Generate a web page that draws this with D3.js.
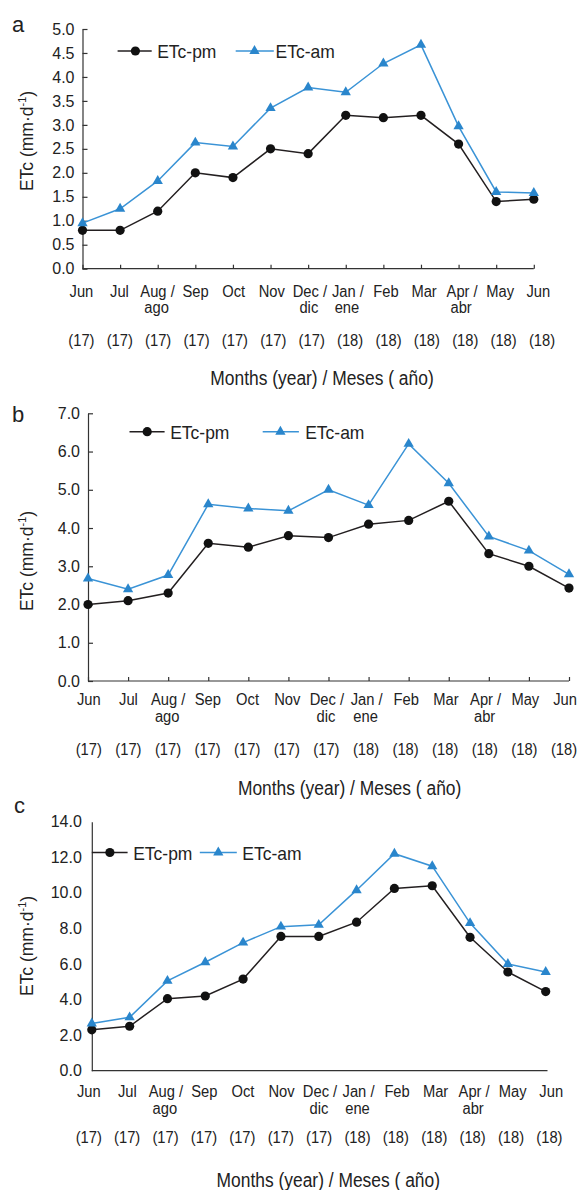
<!DOCTYPE html>
<html>
<head>
<meta charset="utf-8">
<script src="https://cdn.jsdelivr.net/npm/d3@7"></script>
<style>
    body { margin: 0; background: #fff; }
    svg text { font-family: "Liberation Sans", Arial, sans-serif; fill: #222; }
    .axis path, .axis line { stroke: #333; stroke-width: 1.2; }
    .axis text { font-size: 16px; }
</style>
</head>
<body>
<div id="chart"></div>
<script>
// month labels (two lines) and years
const monthLabels = ["Jun", "Jul", "Aug /", "Sep", "Oct", "Nov", "Dec /", "Jan /", "Feb", "Mar", "Apr /", "May", "Jun"];
const monthLabels2 = ["", "", "ago", "", "", "", "dic", "ene", "", "", "abr", "", ""];
const yearLabels = ["(17)", "(17)", "(17)", "(17)", "(17)", "(17)", "(17)", "(18)", "(18)", "(18)", "(18)", "(18)", "(18)"];
const seriesNames = ["ETc-pm", "ETc-am"];

// panel a
const aPm = [0.8, 0.8, 1.2, 2.0, 1.9, 2.5, 2.4, 3.2, 3.15, 3.2, 2.6, 1.4, 1.45];
const aAm = [0.95, 1.25, 1.83, 2.63, 2.55, 3.35, 3.78, 3.68, 4.28, 4.67, 2.97, 1.6, 1.58];
// panel b
const bPm = [2.0, 2.1, 2.3, 3.6, 3.5, 3.8, 3.75, 4.1, 4.2, 4.7, 3.33, 3.0, 2.43];
const bAm = [2.68, 2.4, 2.77, 4.62, 4.51, 4.45, 5.0, 4.6, 6.2, 5.17, 3.78, 3.41, 2.79];
// panel c
const cPm = [2.3, 2.5, 4.05, 4.2, 5.15, 7.55, 7.55, 8.35, 10.25, 10.4, 7.5, 5.55, 4.45];
const cAm = [2.65, 3.0, 5.05, 6.1, 7.2, 8.1, 8.2, 10.15, 12.2, 11.5, 8.3, 6.0, 5.55];

const yMaxes = [5, 7, 14];
const yTicks = [d3.range(0, 5.01, 0.5), d3.range(0, 7.01, 1), d3.range(0, 14.01, 2)];

const pmColor = "#231f20";
const amColor = "#3a93d6";
const triColor = "#2a86cc";

// layout of the three panels
const panels = [
    {letter: "a", pm: aPm, am: aAm, yMax: yMaxes[0], ticks: yTicks[0], left: 82.5, right: 533.8, axisEnd: 533.8,
     top: 29, bottom: 268.7, showTicks: true, labelRange: [81.4, 538.3], yearRange: [81.4, 542],
     rows: [296.5, 313, 346], titleY: 385, titleX: 322, letterPos: [12, 32], yLabelY: 141,
     legend: {y: 51, pm: [117.6, 151.7, 135.4, 157.2], am: [235.7, 273.8, 254.5, 275.6]}},
    {letter: "b", pm: bPm, am: bAm, yMax: yMaxes[1], ticks: yTicks[1], left: 88, right: 569, axisEnd: 569,
     top: 413.3, bottom: 681, showTicks: true, labelRange: [88.8, 565], yearRange: [88.8, 564],
     rows: [705, 722, 755], titleY: 795, titleX: 349.6, letterPos: [12, 422], yLabelY: 561,
     legend: {y: 431.7, pm: [129.5, 164.6, 147.2, 170.2], am: [262.7, 298.9, 280.4, 305.2]}},
    {letter: "c", pm: cPm, am: cAm, yMax: yMaxes[2], ticks: yTicks[2], left: 91.8, right: 545.7, axisEnd: 547.5,
     top: 821.7, bottom: 1070.7, showTicks: false, labelRange: [88.8, 551.2], yearRange: [88.8, 549.4],
     rows: [1097, 1114, 1143], titleY: 1187, titleX: 328.3, letterPos: [14, 813], yLabelY: 946,
     legend: {y: 852.5, pm: [91.8, 127.6, 109.9, 133.2], am: [199.8, 236.8, 218.3, 242.3]}}
];

// squeeze text horizontally to get the condensed look of the original
function squeeze(sel, k) {
    sel.each(function() {
        let len = this.getComputedTextLength();
        if (len > 0) {
            d3.select(this).attr("textLength", len * k).attr("lengthAdjust", "spacingAndGlyphs");
        }
    });
}

const svg = d3.select("#chart").append("svg")
    .attr("width", 580)
    .attr("height", 1190);

panels.forEach(p => {
    let g = svg.append("g");

    let x = d3.scaleLinear().domain([0, 12]).range([p.left, p.right]);
    let xLab = d3.scaleLinear().domain([0, 12]).range(p.labelRange);
    let xYear = d3.scaleLinear().domain([0, 12]).range(p.yearRange);
    let y = d3.scaleLinear().domain([0, p.yMax]).range([p.bottom, p.top]);

    // y axis
    let yAxis = d3.axisLeft(y)
        .tickValues(p.ticks)
        .tickFormat(d3.format(".1f"))
        .tickSizeInner(p.showTicks ? -5 : 0)
        .tickSizeOuter(0)
        .tickPadding(p.showTicks ? 8 : 10);
    g.append("g")
        .attr("class", "axis y-axis")
        .attr("transform", "translate(" + p.left + ",0)")
        .call(yAxis);

    // x axis (labels drawn separately)
    let xAxis = d3.axisBottom(x)
        .tickValues(d3.range(0, 13))
        .tickFormat("")
        .tickSizeInner(p.showTicks ? -4 : 0)
        .tickSizeOuter(0);
    let xg = g.append("g")
        .attr("class", "axis x-axis")
        .attr("transform", "translate(0," + p.bottom + ")")
        .call(xAxis);
    xg.select(".domain").attr("d", "M" + p.left + ",0H" + p.axisEnd);

    // month labels
    let m1 = g.selectAll(".m1").data(monthLabels).enter().append("text")
        .attr("x", (d, i) => xLab(i)).attr("y", p.rows[0])
        .attr("text-anchor", "middle").style("font-size", "16px")
        .text(d => d);
    squeeze(m1, 0.92);
    let m2 = g.selectAll(".m2").data(monthLabels2).enter().append("text")
        .attr("x", (d, i) => xLab(i) + (d ? -1 : 0)).attr("y", p.rows[1])
        .attr("text-anchor", "middle").style("font-size", "16px")
        .text(d => d);
    squeeze(m2, 0.92);
    let yr = g.selectAll(".yr").data(yearLabels).enter().append("text")
        .attr("x", (d, i) => xYear(i)).attr("y", p.rows[2])
        .attr("text-anchor", "middle").style("font-size", "16px")
        .text(d => d);
    squeeze(yr, 0.92);

    // axis titles
    let title = g.append("text")
        .attr("x", p.titleX).attr("y", p.titleY)
        .attr("text-anchor", "middle").style("font-size", "20px")
        .text("Months (year) / Meses ( año)");
    squeeze(title, 0.87);

    let yl = g.append("text")
        .attr("transform", "translate(33," + p.yLabelY + ") rotate(-90)")
        .attr("text-anchor", "middle").style("font-size", "17.5px");
    yl.append("tspan").text("ETc (mm·d");
    yl.append("tspan").attr("dy", -7).style("font-size", "11px").text("-1");
    yl.append("tspan").attr("dy", 7).text(")");

    // panel letter
    g.append("text")
        .attr("x", p.letterPos[0]).attr("y", p.letterPos[1])
        .style("font-size", "22px")
        .text(p.letter);

    // lines
    let line = d3.line().x((d, i) => x(i)).y(d => y(d));
    g.append("path").datum(p.pm)
        .attr("fill", "none").attr("stroke", pmColor).attr("stroke-width", 1.5)
        .attr("d", line);
    g.append("path").datum(p.am)
        .attr("fill", "none").attr("stroke", amColor).attr("stroke-width", 1.5)
        .attr("d", line);

    g.selectAll(".pm-dot").data(p.pm).enter().append("circle")
        .attr("cx", (d, i) => x(i)).attr("cy", d => y(d)).attr("r", 4.6)
        .attr("fill", "#111");
    g.selectAll(".am-tri").data(p.am).enter().append("path")
        .attr("d", d3.symbol().type(d3.symbolTriangle).size(46))
        .attr("transform", (d, i) => "translate(" + x(i) + "," + y(d) + ")")
        .attr("fill", triColor);

    // legend
    let L = p.legend;
    g.append("line").attr("x1", L.pm[0]).attr("x2", L.pm[1]).attr("y1", L.y).attr("y2", L.y)
        .attr("stroke", pmColor).attr("stroke-width", 1.5);
    g.append("circle").attr("cx", L.pm[2]).attr("cy", L.y).attr("r", 4.6).attr("fill", "#111");
    let t1 = g.append("text").attr("x", L.pm[3]).attr("y", L.y + 7)
        .style("font-size", "19px").text(seriesNames[0]);
    squeeze(t1, 0.92);

    g.append("line").attr("x1", L.am[0]).attr("x2", L.am[1]).attr("y1", L.y).attr("y2", L.y)
        .attr("stroke", amColor).attr("stroke-width", 1.5);
    g.append("path").attr("d", d3.symbol().type(d3.symbolTriangle).size(46))
        .attr("transform", "translate(" + L.am[2] + "," + L.y + ")").attr("fill", triColor);
    let t2 = g.append("text").attr("x", L.am[3]).attr("y", L.y + 7)
        .style("font-size", "19px").text(seriesNames[1]);
    squeeze(t2, 0.92);
});
</script>
</body>
</html>
